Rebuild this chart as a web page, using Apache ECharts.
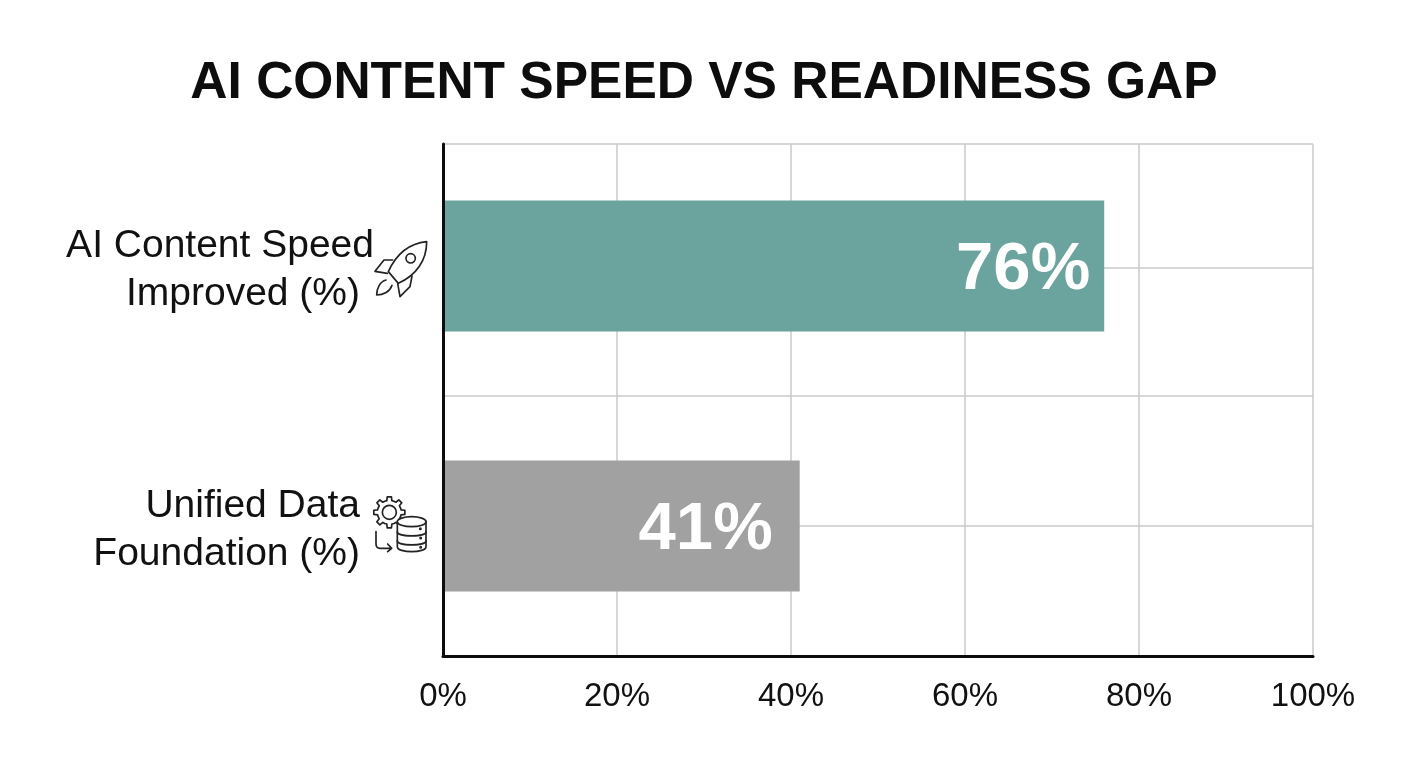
<!DOCTYPE html>
<html>
<head>
<meta charset="utf-8">
<style>
html, body { margin: 0; padding: 0; background: #fff; }
#main { width: 1408px; height: 768px; }
</style>
<script src="https://cdn.jsdelivr.net/npm/echarts@6/dist/echarts.min.js"></script>
</head>
<body>
<div id="main"></div>
<script>
var titleText = 'AI CONTENT SPEED VS READINESS GAP';
var categories = ['AI Content Speed\nImproved (%)', 'Unified Data\nFoundation (%)'];
var values = [76, 41];
var barColors = ['#6ba39e', '#a1a1a1'];
var labelDistances = [14, 27];
var xTicks = [0, 20, 40, 60, 80, 100];
var rowLines = [0, 1, 2, 2.99, 3.94];

var fontName = '"Liberation Sans", Arial, sans-serif';

// gear outline for the data icon
function gearPath(cx, cy, teeth, r1, r2) {
	var d = '';
	var step = Math.PI * 2 / teeth;
	for (var i = 0; i < teeth; i++) {
		var a = i * step;
		var pts = [[r1, a - step * 0.5], [r1, a - step * 0.27], [r2, a - step * 0.17], [r2, a + step * 0.17], [r1, a + step * 0.27]];
		pts.forEach(function(p, j) {
			d += (i === 0 && j === 0 ? 'M' : 'L') + (cx + p[0] * Math.cos(p[1])).toFixed(1) + ' ' + (cy + p[0] * Math.sin(p[1])).toFixed(1);
		});
	}
	return d + 'Z';
}

// icons are small svg images, viewBox is 3x the page pixels
function svgIcon(x, y, w, h, body) {
	var svg = '<svg xmlns="http://www.w3.org/2000/svg" width="' + w * 3 + '" height="' + h * 3 + '" viewBox="0 0 ' + w * 3 + ' ' + h * 3 + '">' +
		'<g fill="none" stroke="#222" stroke-width="5" stroke-linejoin="round" stroke-linecap="round">' + body + '</g></svg>';
	return {
		type: 'image', x: x, y: y, silent: true,
		style: { image: 'data:image/svg+xml;charset=utf-8,' + encodeURIComponent(svg), width: w, height: h }
	};
}

var rocket = svgIcon(370, 235, 64, 70,
	'<g transform="translate(-990 -105)">' +
	'<path d="M1160 125C1110 130 1070 160 1045 215L1075 250C1130 225 1160 180 1160 125Z"/>' +
	'<path d="M1058 180H1032L1005 214L1042 220"/>' +
	'<path d="M1116 228L1110 260L1080 290L1073 250"/>' +
	'<path d="M1038 240C1020 245 1010 265 1010 285C1030 285 1050 275 1056 256"/>' +
	'<circle cx="1112" cy="175" r="14"/></g>');

var dataIcon = svgIcon(370, 490, 64, 70,
	'<g transform="translate(-930 -60)">' +
	'<path d="' + gearPath(988, 127, 8, 36, 47) + '"/>' +
	'<circle cx="988" cy="127" r="21"/>' +
	'<path d="M948 185V222Q948 235 960 235H995M983 222L995 235L983 245"/>' +
	'<path fill="#fff" d="M1012 155V230C1012 250 1098 250 1098 230V155Z"/>' +
	'<ellipse fill="#fff" cx="1055" cy="155" rx="43" ry="15"/>' +
	'<path d="M1012 185C1012 202 1098 202 1098 185"/>' +
	'<path d="M1012 212C1012 229 1098 229 1098 212"/>' +
	'<circle cx="1081" cy="176" r="2"/><circle cx="1082" cy="204" r="2"/><circle cx="1082" cy="232" r="2"/></g>');

var myChart = echarts.init(document.getElementById('main'));

var option = {
	animation: false,
	backgroundColor: '#fff',
	title: {
		text: titleText,
		left: 'center',
		top: 53,
		textStyle: { fontFamily: fontName, fontSize: 51.5, fontWeight: 'bold', color: '#0d0d0d' }
	},
	grid: [
		{ left: 443, right: 95, top: 144, bottom: 112 },
		{ left: 443, right: 95, top: 136, bottom: 112 }
	],
	xAxis: [
		{
			type: 'value', gridIndex: 0, min: 0, max: 100, interval: 20,
			axisLine: { show: true, onZero: false, lineStyle: { color: '#0d0d0d', width: 3 } },
			axisTick: { show: false },
			axisLabel: {
				customValues: xTicks,
				formatter: '{value}%', margin: 24,
				fontFamily: fontName, fontSize: 33, color: '#111'
			},
			splitLine: { show: true, lineStyle: { color: '#cacaca', width: 1.5 } }
		},
		{
			type: 'value', gridIndex: 1, min: 0, max: 100,
			axisLine: { show: false }, axisTick: { show: false },
			axisLabel: { show: false }, splitLine: { show: false }
		}
	],
	yAxis: [
		{
			// horizontal rules, spaced as in the picture
			type: 'value', gridIndex: 0, min: 0, max: 3.94,
			axisLine: { show: false },
			axisTick: { show: false, customValues: rowLines },
			axisLabel: { show: false, customValues: rowLines },
			splitLine: { show: true, lineStyle: { color: '#cacaca', width: 1.5 } }
		},
		{
			type: 'category', gridIndex: 1, inverse: true, data: categories,
			axisLine: { show: false }, axisTick: { show: false },
			axisLabel: {
				margin: 69,
				align: 'right',
				padding: [8, 0, 0, 0],
				formatter: function(value, idx) {
					var parts = value.split('\n');
					return idx === 0
						? '{a|' + parts[0] + '}\n{b|' + parts[1] + '}'
						: '{b|' + parts[0] + '}\n{b|' + parts[1] + '}';
				},
				rich: {
					a: { fontFamily: fontName, fontSize: 39, color: '#111', lineHeight: 48, align: 'right' },
					b: { fontFamily: fontName, fontSize: 39, color: '#111', lineHeight: 48, align: 'right', padding: [0, 14, 0, 0] }
				}
			}
		},
		{
			// black vertical axis sits over the bars
			type: 'value', gridIndex: 0, position: 'left', min: 0, max: 1, z: 5,
			axisLine: { show: true, onZero: false, lineStyle: { color: '#0d0d0d', width: 3 } },
			axisTick: { show: false }, axisLabel: { show: false }, splitLine: { show: false }
		}
	],
	series: [
		{
			type: 'bar',
			xAxisIndex: 1,
			yAxisIndex: 1,
			barWidth: 131,
			data: values.map(function(v, i) {
				return {
					value: v,
					itemStyle: { color: barColors[i] },
					label: { distance: labelDistances[i] }
				};
			}),
			label: {
				show: true,
				position: 'insideRight',
				offset: [0, 5],
				formatter: '{c}%',
				fontFamily: fontName, fontSize: 67, fontWeight: 'bold', color: '#fff'
			}
		}
	],
	graphic: [rocket, dataIcon]
};

myChart.setOption(option);
</script>
</body>
</html>
